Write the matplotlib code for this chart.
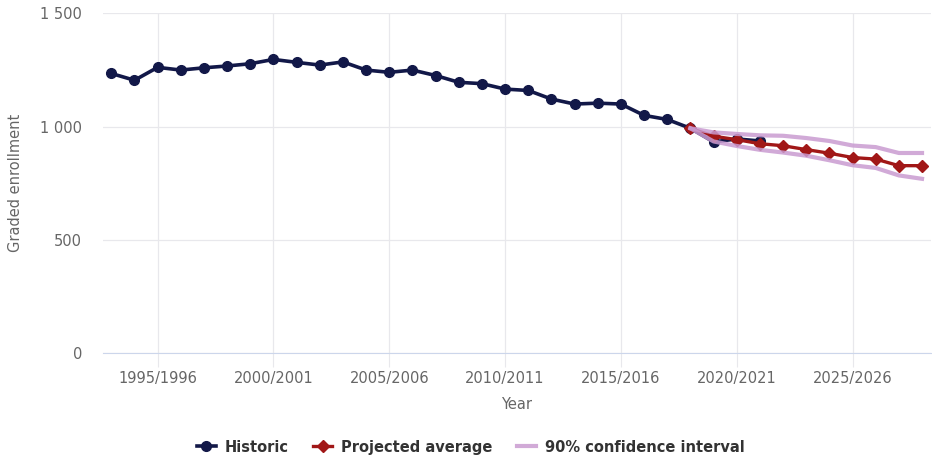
import matplotlib
matplotlib.use("Agg")
import matplotlib.pyplot as plt
from matplotlib.ticker import FuncFormatter

# --- data ---
hist_years = list(range(1993, 2022))
hist_vals = [1235, 1205, 1262, 1250, 1260, 1268, 1278, 1297, 1284, 1272,
             1286, 1250, 1240, 1250, 1226, 1196, 1190, 1166, 1160, 1122,
             1100, 1104, 1100, 1050, 1032, 993, 933, 946, 937]

proj_years = list(range(2018, 2029))
proj_vals = [993, 958, 943, 925, 916, 899, 883, 864, 857, 828, 828]
ci_upper = [993, 975, 968, 962, 960, 950, 937, 917, 910, 884, 884]
ci_lower = [993, 935, 915, 898, 886, 872, 852, 830, 818, 785, 770]

xticks = [1995, 2000, 2005, 2010, 2015, 2020, 2025]
xtick_labels = [f"{y}/{y + 1}" for y in xticks]
yticks = [0, 500, 1000, 1500]

NAVY = "#121848"
RED = "#a11717"
LILAC = "#c99bd1"
GRID = "#e8e8ec"
TXT = "#666666"

fig = plt.figure(figsize=(9.32, 4.63), dpi=100)
ax = fig.add_axes([0.1105, 0.237, 0.888, 0.734])

ax.plot(hist_years, hist_vals, color=NAVY, lw=2.6, marker="o", ms=7,
        label="Historic", zorder=3)
ax.plot(proj_years, proj_vals, color=RED, lw=2.4, marker="D", ms=6,
        label="Projected average", zorder=4)
ax.plot(proj_years, ci_upper, color=LILAC, lw=3, alpha=0.85,
        label="90% confidence interval", zorder=5)
ax.plot(proj_years, ci_lower, color=LILAC, lw=3, alpha=0.85, zorder=5)

ax.set_xlim(1992.64, 2028.37)
ax.set_ylim(0, 1500)
ax.set_yticks(yticks)
ax.yaxis.set_major_formatter(FuncFormatter(lambda v, p: f"{int(v):,}".replace(",", " ")))
ax.set_xticks(xticks)
ax.set_xticklabels(xtick_labels)

ax.grid(True, color=GRID, lw=0.9)
ax.set_axisbelow(True)
for s in ["top", "right", "left"]:
    ax.spines[s].set_visible(False)
ax.spines["bottom"].set_color("#ccd6eb")
ax.tick_params(axis="y", length=0, pad=15, labelsize=10.5, labelcolor=TXT)
ax.tick_params(axis="x", length=10, color=GRID, pad=3, labelsize=10.5,
               labelcolor=TXT)

ax.set_ylabel("Graded enrollment", color=TXT, fontsize=10.5, labelpad=12)
ax.set_xlabel("Year", color=TXT, fontsize=10.5, labelpad=8)

leg = fig.legend(loc="lower center", bbox_to_anchor=(0.505, -0.01), ncol=3,
                 frameon=False, handlelength=1.3, handletextpad=0.6,
                 columnspacing=1.7, prop={"weight": "bold", "size": 10.5})
for t in leg.get_texts():
    t.set_color("#333333")

fig.savefig("out.png", dpi=100)
